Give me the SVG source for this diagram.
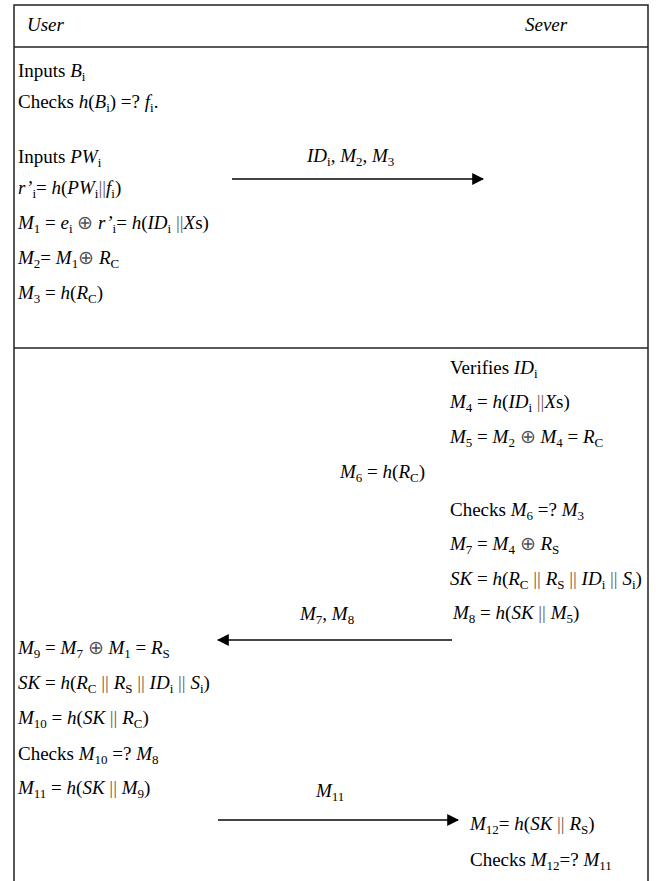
<svg xmlns="http://www.w3.org/2000/svg" width="656" height="881" viewBox="0 0 656 881">
<style>
text{font-family:"Liberation Serif","Times New Roman",serif;font-size:19px;fill:#000}
.v{font-style:italic}
.s{font-size:13px;font-style:normal}
.b{fill:#6a5a50}
.o{fill:#555}
.frame{stroke:#222;stroke-width:1.5;fill:none}
.arr{stroke:#444;stroke-width:2;fill:none}
</style>
<defs>
<marker id="ah" viewBox="0 0 10 10" refX="9" refY="5" markerWidth="12" markerHeight="12" markerUnits="userSpaceOnUse" orient="auto">
<path d="M0,0 L10,5 L0,10 z" fill="#000"/>
</marker>
</defs>
<g id="frame">
<path class="frame" d="M14,881 V5 H648 V881"/>
<line class="frame" x1="14" y1="47" x2="648" y2="47"/>
<line class="frame" x1="14" y1="348" x2="648" y2="348"/>
</g>
<g id="header">
<text x="27" y="31" class="v">User</text>
<text x="525" y="31" class="v">Sever</text>
</g>
<g id="user-1">
<text x="18" y="77">Inputs <tspan class="v">B</tspan><tspan class="s" dy="4">i</tspan></text>
<text x="18" y="108">Checks <tspan class="v">h</tspan>(<tspan class="v">B</tspan><tspan class="s" dy="4">i</tspan><tspan dy="-4">) =? </tspan><tspan class="v">f</tspan><tspan class="s" dy="4">i</tspan><tspan dy="-4">.</tspan></text>
<text x="18" y="163">Inputs <tspan class="v">PW</tspan><tspan class="s" dy="4">i</tspan></text>
<text x="18" y="194"><tspan class="v">r’</tspan><tspan class="s" dy="4">i</tspan><tspan dy="-4">= </tspan><tspan class="v">h</tspan>(<tspan class="v">PW</tspan><tspan class="s" dy="4">i</tspan><tspan dy="-4" class="b">||</tspan><tspan class="v">f</tspan><tspan class="s" dy="4">i</tspan><tspan dy="-4">)</tspan></text>
<text x="18" y="229"><tspan class="v">M</tspan><tspan class="s" dy="4">1</tspan><tspan dy="-4"> = </tspan><tspan class="v">e</tspan><tspan class="s" dy="4">i</tspan><tspan dy="-4" class="o"> ⊕ </tspan><tspan class="v"> r’</tspan><tspan class="s" dy="4">i</tspan><tspan dy="-4">= </tspan><tspan class="v">h</tspan>(<tspan class="v">ID</tspan><tspan class="s" dy="4">i</tspan><tspan dy="-4" class="b"> ||</tspan><tspan class="v">X</tspan>s)</text>
<text x="18" y="264"><tspan class="v">M</tspan><tspan class="s" dy="4">2</tspan><tspan dy="-4">= </tspan><tspan class="v">M</tspan><tspan class="s" dy="4">1</tspan><tspan dy="-4" class="o">⊕ </tspan><tspan class="v"> R</tspan><tspan class="s" dy="4">C</tspan></text>
<text x="18" y="299"><tspan class="v">M</tspan><tspan class="s" dy="4">3</tspan><tspan dy="-4"> = </tspan><tspan class="v">h</tspan>(<tspan class="v">R</tspan><tspan class="s" dy="4">C</tspan><tspan dy="-4">)</tspan></text>
</g>
<g id="server-1">
<text x="450" y="374">Verifies <tspan class="v">ID</tspan><tspan class="s" dy="4">i</tspan></text>
<text x="450" y="408"><tspan class="v">M</tspan><tspan class="s" dy="4">4</tspan><tspan dy="-4"> = </tspan><tspan class="v">h</tspan>(<tspan class="v">ID</tspan><tspan class="s" dy="4">i</tspan><tspan dy="-4" class="b"> ||</tspan><tspan class="v">X</tspan>s)</text>
<text x="450" y="443"><tspan class="v">M</tspan><tspan class="s" dy="4">5</tspan><tspan dy="-4"> = </tspan><tspan class="v">M</tspan><tspan class="s" dy="4">2</tspan><tspan dy="-4" class="o"> ⊕ </tspan><tspan class="v"> M</tspan><tspan class="s" dy="4">4</tspan><tspan dy="-4"> = </tspan><tspan class="v">R</tspan><tspan class="s" dy="4">C</tspan></text>
<text x="340" y="478"><tspan class="v">M</tspan><tspan class="s" dy="4">6</tspan><tspan dy="-4"> = </tspan><tspan class="v">h</tspan>(<tspan class="v">R</tspan><tspan class="s" dy="4">C</tspan><tspan dy="-4">)</tspan></text>
<text x="450" y="516">Checks <tspan class="v">M</tspan><tspan class="s" dy="4">6</tspan><tspan dy="-4"> =? </tspan><tspan class="v">M</tspan><tspan class="s" dy="4">3</tspan></text>
<text x="450" y="550"><tspan class="v">M</tspan><tspan class="s" dy="4">7</tspan><tspan dy="-4"> = </tspan><tspan class="v">M</tspan><tspan class="s" dy="4">4</tspan><tspan dy="-4" class="o"> ⊕ </tspan><tspan class="v"> R</tspan><tspan class="s" dy="4">S</tspan></text>
<text x="450" y="585"><tspan class="v">SK</tspan> = <tspan class="v">h</tspan>(<tspan class="v">R</tspan><tspan class="s" dy="4">C</tspan><tspan dy="-4" class="b"> || </tspan><tspan class="v">R</tspan><tspan class="s" dy="4">S</tspan><tspan dy="-4" class="b"> || </tspan><tspan class="v">ID</tspan><tspan class="s" dy="4">i</tspan><tspan dy="-4" class="b"> || </tspan><tspan class="v">S</tspan><tspan class="s" dy="4">i</tspan><tspan dy="-4">)</tspan></text>
<text x="453" y="619"><tspan class="v">M</tspan><tspan class="s" dy="4">8</tspan><tspan dy="-4"> = </tspan><tspan class="v">h</tspan>(<tspan class="v">SK</tspan><tspan class="b"> || </tspan><tspan class="v">M</tspan><tspan class="s" dy="4">5</tspan><tspan dy="-4">)</tspan></text>
</g>
<g id="user-2">
<text x="18" y="654"><tspan class="v">M</tspan><tspan class="s" dy="4">9</tspan><tspan dy="-4"> = </tspan><tspan class="v">M</tspan><tspan class="s" dy="4">7</tspan><tspan dy="-4" class="o"> ⊕ </tspan><tspan class="v"> M</tspan><tspan class="s" dy="4">1</tspan><tspan dy="-4"> = </tspan><tspan class="v">R</tspan><tspan class="s" dy="4">S</tspan></text>
<text x="18" y="689"><tspan class="v">SK</tspan> = <tspan class="v">h</tspan>(<tspan class="v">R</tspan><tspan class="s" dy="4">C</tspan><tspan dy="-4" class="b"> || </tspan><tspan class="v">R</tspan><tspan class="s" dy="4">S</tspan><tspan dy="-4" class="b"> || </tspan><tspan class="v">ID</tspan><tspan class="s" dy="4">i</tspan><tspan dy="-4" class="b"> || </tspan><tspan class="v">S</tspan><tspan class="s" dy="4">i</tspan><tspan dy="-4">)</tspan></text>
<text x="18" y="724"><tspan class="v">M</tspan><tspan class="s" dy="4">10</tspan><tspan dy="-4"> = </tspan><tspan class="v">h</tspan>(<tspan class="v">SK</tspan><tspan class="b"> || </tspan><tspan class="v">R</tspan><tspan class="s" dy="4">C</tspan><tspan dy="-4">)</tspan></text>
<text x="18" y="760">Checks <tspan class="v">M</tspan><tspan class="s" dy="4">10</tspan><tspan dy="-4"> =? </tspan><tspan class="v">M</tspan><tspan class="s" dy="4">8</tspan></text>
<text x="18" y="794"><tspan class="v">M</tspan><tspan class="s" dy="4">11</tspan><tspan dy="-4"> = </tspan><tspan class="v">h</tspan>(<tspan class="v">SK</tspan><tspan class="b"> || </tspan><tspan class="v">M</tspan><tspan class="s" dy="4">9</tspan><tspan dy="-4">)</tspan></text>
</g>
<g id="server-2">
<text x="470" y="830"><tspan class="v">M</tspan><tspan class="s" dy="4">12</tspan><tspan dy="-4">= </tspan><tspan class="v">h</tspan>(<tspan class="v">SK</tspan><tspan class="b"> || </tspan><tspan class="v">R</tspan><tspan class="s" dy="4">S</tspan><tspan dy="-4">)</tspan></text>
<text x="470" y="866">Checks <tspan class="v">M</tspan><tspan class="s" dy="4">12</tspan><tspan dy="-4">=? </tspan><tspan class="v">M</tspan><tspan class="s" dy="4">11</tspan></text>
</g>
<g id="connectors">
<line class="arr" x1="232" y1="179" x2="483" y2="179" marker-end="url(#ah)"/>
<text x="307" y="162"><tspan class="v">ID</tspan><tspan class="s" dy="4">i</tspan><tspan dy="-4">, </tspan><tspan class="v">M</tspan><tspan class="s" dy="4">2</tspan><tspan dy="-4">, </tspan><tspan class="v">M</tspan><tspan class="s" dy="4">3</tspan></text>
<line class="arr" x1="452" y1="640" x2="218" y2="640" marker-end="url(#ah)"/>
<text x="300" y="620"><tspan class="v">M</tspan><tspan class="s" dy="4">7</tspan><tspan dy="-4">, </tspan><tspan class="v">M</tspan><tspan class="s" dy="4">8</tspan></text>
<line class="arr" x1="218" y1="820" x2="458" y2="820" marker-end="url(#ah)"/>
<text x="316" y="797"><tspan class="v">M</tspan><tspan class="s" dy="4">11</tspan></text>
</g>
</svg>
